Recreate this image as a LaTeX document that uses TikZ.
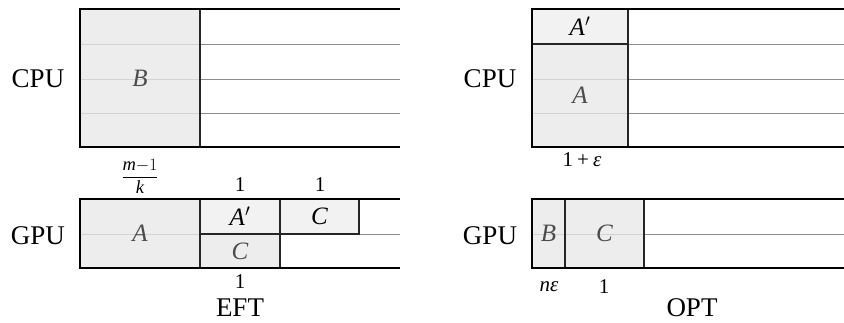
\documentclass[tikz,border=0pt]{standalone}
\usepackage{fontspec}
\setmainfont{Liberation Serif}
\begin{document}
\begin{tikzpicture}[x=1pt,y=-1pt,
  rowline/.style={draw=black!45, line width=0.8pt},
  frame/.style={line width=2pt, line join=miter},
  blk/.style={draw=black!85, line width=1.4pt, fill=black!9, fill opacity=0.78, draw opacity=1, text opacity=1,
     text=black!70, inner sep=0pt, outer sep=0pt, anchor=north west,
     font=\fontsize{25}{28}\selectfont\itshape},
  lblk/.style={blk, fill=black!5, fill opacity=1, text=black},
  proc/.style={font=\fontsize{27}{30}\selectfont},
  dim/.style={font=\fontsize{21}{23}\selectfont},
]
\useasboundingbox (0,0) rectangle (844,323);

% ---------------- EFT CPU ----------------
\foreach \yy in {44,79,113} \draw[rowline] (80,\yy) -- (400,\yy);
\node[blk, minimum width=120pt, minimum height=138pt] (eB) at (80,9) {B};
\draw[frame] (400,9) -- (80,9) -- (80,147) -- (400,147);
\node[proc] (eCPU) at (38,79) {CPU};

% ---------------- EFT GPU ----------------
\draw[rowline] (80,234) -- (400,234);
\node[blk, minimum width=120pt, minimum height=69pt] (eA) at (80,199) {A};
\node[lblk, minimum width=80pt, minimum height=35pt] (eAp) at (200,199) {A$'$};
\node[blk, minimum width=80pt, minimum height=34pt] (eC1) at (200,234) {C};
\node[lblk, minimum width=79pt, minimum height=35pt] (eC2) at (280,199) {C};
\draw[frame] (400,199) -- (80,199) -- (80,268) -- (400,268);
\node[proc] (eGPU) at (38,236) {GPU};
\node[font=\fontsize{18.5}{20}\selectfont] (efrac) at (140,176.5) {$\displaystyle\frac{\textit{m}{-}1}{\textit{k}}$};
\node[dim] (e1a) at (240,185) {1};
\node[dim] (e1b) at (320,185) {1};
\node[dim] (e1c) at (240,282) {1};
\node[proc] (eft) at (240,308) {EFT};

% ---------------- OPT CPU ----------------
\foreach \yy in {44,79,113} \draw[rowline] (532,\yy) -- (844,\yy);
\node[blk, minimum width=96pt, minimum height=103pt] (oA) at (532,44) {\raisebox{-14pt}{A}};
\node[lblk, minimum width=96pt, minimum height=35pt] (oAp) at (532,9) {A$'$};
\draw[frame] (844,9) -- (532,9) -- (532,147) -- (844,147);
\node[proc] (oCPU) at (490,79) {CPU};
\node[dim] (oeps) at (582,160) {1\kern4pt+\kern4pt\textit{ε}};

% ---------------- OPT GPU ----------------
\draw[rowline] (532,234) -- (844,234);
\node[blk, minimum width=33pt, minimum height=69pt] (oB) at (532,199) {B};
\node[blk, minimum width=79pt, minimum height=69pt] (oC) at (565,199) {C};
\draw[frame] (844,199) -- (532,199) -- (532,268) -- (844,268);
\node[proc] (oGPU) at (490,236) {GPU};
\node[dim] (one) at (549,287) {\textit{nε}};
\node[dim] (o1) at (604,287) {1};
\node[proc] (opt) at (692,308) {OPT};
\end{tikzpicture}
\end{document}
